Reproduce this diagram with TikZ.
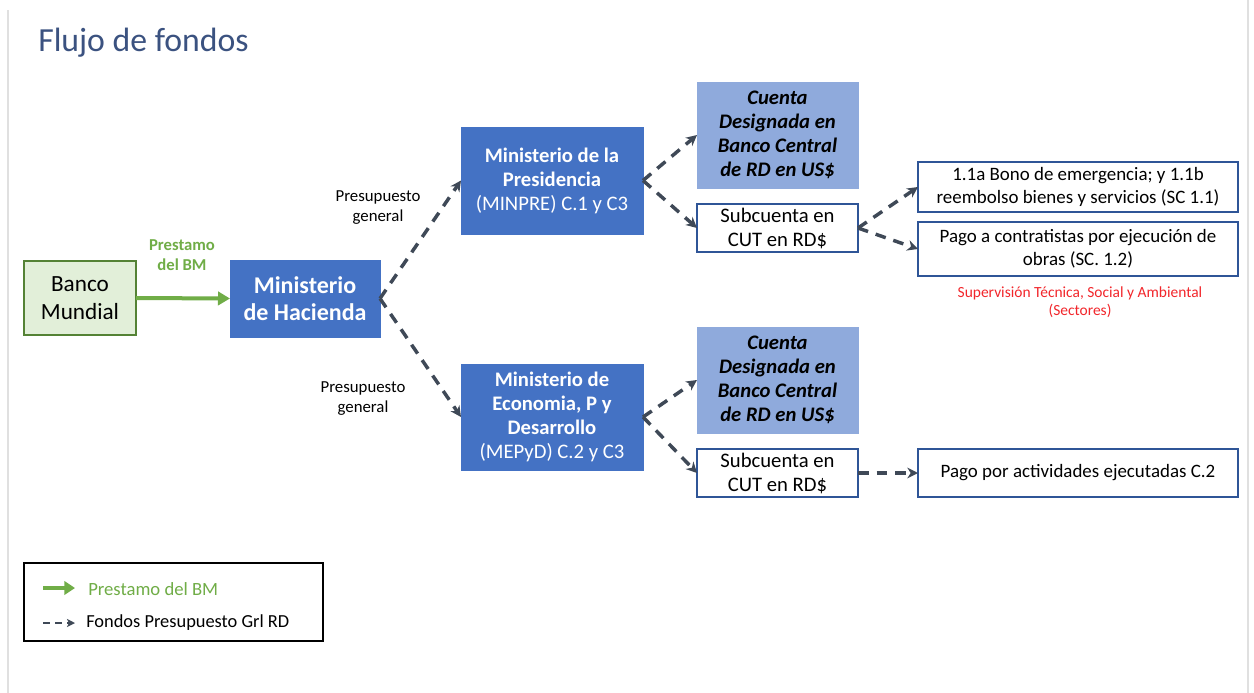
\documentclass[tikz,border=0pt]{standalone}
\usepackage{fontspec}
\setmainfont{Carlito}
\usetikzlibrary{arrows.meta}
\definecolor{boxblue}{HTML}{4472C4}
\definecolor{lightblue}{HTML}{8FAADC}
\definecolor{bordblue}{HTML}{2F5597}
\definecolor{lgreen}{HTML}{E2EFD9}
\definecolor{dgreen}{HTML}{548235}
\definecolor{agreen}{HTML}{70AD47}
\definecolor{dashcol}{HTML}{3F4957}
\definecolor{titleblue}{HTML}{3B5280}
\definecolor{redtxt}{HTML}{F2262B}
\newcommand\setfs[2]{\fontsize{#1}{#2}\selectfont}
\begin{document}
\begin{tikzpicture}[x=0.75pt,y=-0.75pt,
  sz/.style 2 args={minimum width=#1*0.75pt, minimum height=#2*0.75pt, inner sep=0pt, outer sep=0pt},
  bluebox/.style={fill=boxblue, draw=boxblue, text=white, align=center},
  cuentabox/.style={fill=lightblue, draw=lightblue, text=black, align=center, font=\setfs{15.5}{18}\bfseries\itshape},
  whitebox/.style={fill=white, draw=bordblue, line width=1.1pt, text=black, align=center},
  dasharrow/.style={draw=dashcol, line width=2.6pt, dash pattern=on 8pt off 6pt, -{Stealth[length=8pt,width=8pt,inset=2.5pt]}},
  greenarrow/.style={draw=agreen, line width=3pt, -{Triangle[length=9pt,width=10pt]}},
  lbl/.style={align=center, inner sep=0pt}
]
\useasboundingbox (0,0) rectangle (1254,693);
\fill[white] (0,0) rectangle (1254,693);
\draw[black!12, line width=1pt] (8,10) -- (8,693);
\draw[black!12, line width=1pt] (1248,0) -- (1248,693);

\node[anchor=west, inner sep=0pt, text=titleblue, font=\setfs{25.3}{29}] (title) at (38,43) {Flujo de fondos};

\node[fill=lgreen, draw=dgreen, line width=1.5pt, align=center, sz={112}{74}, font=\setfs{17.4}{21.5}] (bm) at (80,298) {Banco\\Mundial};
\node[bluebox, sz={150}{77}, font=\setfs{18}{20.5}\bfseries] (hac) at (305,298.5) {Ministerio\\de Hacienda};

\node[bluebox, sz={182}{107}, font=\setfs{15.5}{18}\bfseries] (minpre) at (552,180.5) {Ministerio de la\\Presidencia\\\mdseries (MINPRE) C.1 y C3};
\node[cuentabox, sz={161}{106}] (cd1) at (777.5,135) {Cuenta\\Designada en\\Banco Central\\de RD en US\$};
\node[whitebox, sz={161}{48}, font=\setfs{15.5}{18}] (sc1) at (777.5,228) {Subcuenta en\\CUT en RD\$};
\node[whitebox, sz={320}{50}, font=\setfs{14.2}{17.2}] (b11) at (1078,187) {1.1a Bono de emergencia; y 1.1b\\reembolso bienes y servicios (SC 1.1)};
\node[whitebox, sz={320}{54}, font=\setfs{14.2}{17.5}] (b12) at (1078,249) {Pago a contratistas por ejecución de\\obras (SC. 1.2)};
\node[lbl, text=redtxt, font=\setfs{11.6}{13.5}] (sup) at (1080,302) {Supervisión Técnica, Social y Ambiental\\(Sectores)};

\node[bluebox, sz={182}{106}, font=\setfs{15.5}{18}\bfseries] (mep) at (552,417) {Ministerio de\\Economia, P y\\Desarrollo\\\mdseries (MEPyD) C.2 y C3};
\node[cuentabox, sz={161}{106}] (cd2) at (777.5,380) {Cuenta\\Designada en\\Banco Central\\de RD en US\$};
\node[whitebox, sz={161}{48}, font=\setfs{15.5}{18}] (sc2) at (777.5,473) {Subcuenta en\\CUT en RD\$};
\node[whitebox, sz={320}{48}, font=\setfs{14.2}{17.2}] (b2) at (1078,473) {Pago por actividades ejecutadas C.2};

\node[lbl, font=\setfs{12.6}{15}] (pg1) at (378,208) {Presupuesto\\general};
\node[lbl, font=\setfs{12.6}{15}] (pg2) at (363,399) {Presupuesto\\general};
\node[lbl, text=agreen, font=\setfs{12.5}{15.5}\bfseries] (pbm) at (182,255) {Prestamo\\del BM};

\draw[greenarrow] (bm.east) -- (hac.west);
\draw[dasharrow] (hac.east) -- (minpre.west);
\draw[dasharrow] (hac.east) -- (mep.west);
\draw[dasharrow] (minpre.east) -- (cd1.west);
\draw[dasharrow] (minpre.east) -- (sc1.west);
\draw[dasharrow] (sc1.east) -- (b11.west);
\draw[dasharrow] (sc1.east) -- (b12.west);
\draw[dasharrow] (mep.east) -- (cd2.west);
\draw[dasharrow] (mep.east) -- (sc2.west);
\draw[dasharrow] (sc2.east) -- (b2.west);

% legend
\node[draw=black, line width=1.1pt, sz={299}{78}] (leg) at (173.5,602) {};
\coordinate (la1) at (43,588);
\coordinate (lb1) at (75,588);
\coordinate (la2) at (43,623);
\coordinate (lb2) at (75,623);
\draw[draw=agreen, line width=3.5pt, -{Triangle[length=8pt,width=10pt]}] (la1) -- (lb1);
\draw[draw=dashcol, line width=1.6pt, dash pattern=on 5pt off 4pt, -{Stealth[length=6pt,width=6pt,inset=1.5pt]}] (la2) -- (lb2);
\node[anchor=west, inner sep=0pt, text=agreen, font=\setfs{14}{16}] (lt1) at (88,589) {Prestamo del BM};
\node[anchor=west, inner sep=0pt, font=\setfs{13.8}{16}] (lt2) at (86,623) {Fondos Presupuesto Grl RD};
\end{tikzpicture}
\end{document}
